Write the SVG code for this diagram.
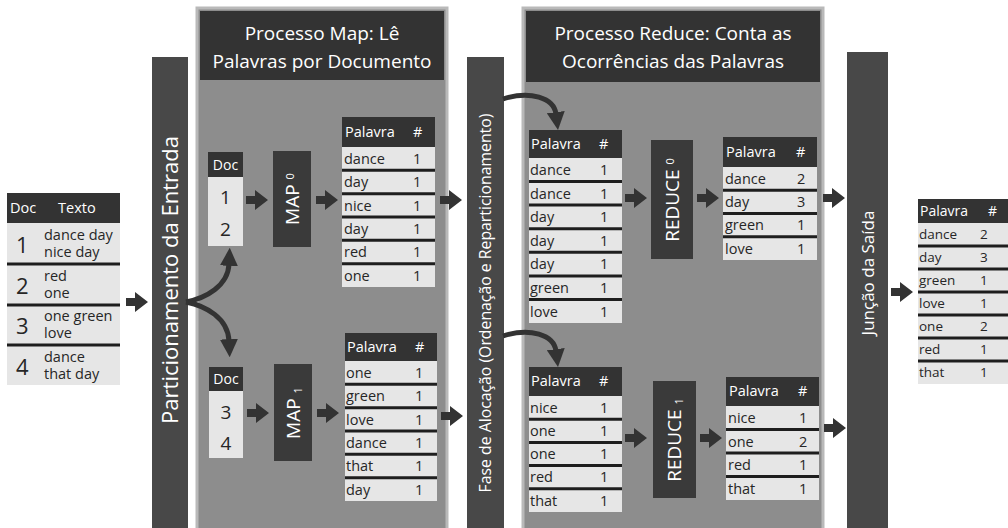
<svg xmlns="http://www.w3.org/2000/svg" xmlns:xlink="http://www.w3.org/1999/xlink" width="1008" height="528" viewBox="0 0 1008 528">
<style>
text{font-family:"Open Sans","DejaVu Sans",sans-serif;}
.hd{fill:#333333;}
.cell{fill:#e6e6e6;}
.sep{stroke:#1e1e1e;stroke-width:3;}
.ht{fill:#ffffff;font-size:14.5px;}
.ct{fill:#262626;font-size:14.5px;}
.bar{fill:#484848;}
.box{fill:#3a3a3a;}
.panel{fill:#8d8d8d;stroke:#b9b9b9;stroke-width:3;}
.title{fill:#ffffff;font-size:19px;text-anchor:middle;}
.vt{fill:#ffffff;text-anchor:middle;}
.arr{fill:#333333;}
.curve{fill:none;stroke:#333333;stroke-width:5;}
</style>
<defs>
<polygon id="ar" class="arr" points="0,-4 9,-4 9,-10 22,0 9,10 9,4 0,4"/>
<marker id="mh" viewBox="0 0 10 10" refX="1" refY="5" markerUnits="userSpaceOnUse" markerWidth="18" markerHeight="18" orient="auto">
<path d="M0,0 L10,5 L0,10 z" fill="#333333"/>
</marker>
</defs>
<rect width="1008" height="528" fill="#ffffff"/>

<!-- panels -->
<g id="map-panel">
<rect class="panel" x="197" y="8" width="250" height="524"/>
<rect class="hd" x="200" y="11" width="244" height="69"/>
<text class="title" x="322" y="40">Processo Map: Lê</text>
<text class="title" x="322" y="68">Palavras por Documento</text>
</g>
<g id="reduce-panel">
<rect class="panel" x="523" y="8" width="300" height="524"/>
<rect class="hd" x="526" y="11" width="294" height="71"/>
<text class="title" x="673" y="40">Processo Reduce: Conta as</text>
<text class="title" x="673" y="68">Ocorrências das Palavras</text>
</g>

<!-- input table -->
<g id="input">
<rect class="hd" x="7" y="193" width="113" height="30"/>
<text class="ht" x="10" y="213">Doc</text>
<text class="ht" x="58" y="213">Texto</text>
<rect class="cell" x="7" y="223" width="113" height="162"/>
<line class="sep" x1="7" y1="264" x2="120" y2="264"/>
<line class="sep" x1="7" y1="305" x2="120" y2="305"/>
<line class="sep" x1="7" y1="345" x2="120" y2="345"/>
<g class="ct" style="font-size:22px"><text x="16" y="253">1</text><text x="16" y="294">2</text><text x="16" y="334">3</text><text x="16" y="375">4</text></g>
<g class="ct" style="font-size:14.5px">
<text x="44" y="240">dance day</text><text x="44" y="257">nice day</text>
<text x="44" y="281">red</text><text x="44" y="298">one</text>
<text x="44" y="321">one green</text><text x="44" y="338">love</text>
<text x="44" y="362">dance</text><text x="44" y="379">that day</text>
</g>
</g>

<!-- bars -->
<g id="particionamento">
<rect class="bar" x="152" y="57" width="36" height="475"/>
<text class="vt" style="font-size:22px" transform="translate(178,280) rotate(-90)">Particionamento da Entrada</text>
</g>
<g id="alocacao">
<rect class="bar" x="467" y="57" width="37" height="475"/>
<text class="vt" style="font-size:15.8px" transform="translate(491,303) rotate(-90)">Fase de Alocação (Ordenação e Reparticionamento)</text>
</g>
<g id="juncao">
<rect class="bar" x="847" y="52" width="41" height="480"/>
<text class="vt" style="font-size:17px" transform="translate(874,273) rotate(-90)">Junção da Saída</text>
</g>

<!-- doc boxes -->
<g id="doc1">
<rect class="hd" x="208" y="152" width="35" height="25"/>
<text class="ht" style="font-size:14px" x="225.5" y="170" text-anchor="middle">Doc</text>
<rect class="cell" x="208" y="177" width="35" height="69"/>
<text class="ct" style="font-size:19px" x="225.5" y="204" text-anchor="middle">1</text>
<text class="ct" style="font-size:19px" x="225.5" y="236" text-anchor="middle">2</text>
</g>
<g id="doc2">
<rect class="hd" x="209" y="367" width="34" height="24"/>
<text class="ht" style="font-size:14px" x="226" y="384" text-anchor="middle">Doc</text>
<rect class="cell" x="209" y="391" width="34" height="67"/>
<text class="ct" style="font-size:19px" x="226" y="419" text-anchor="middle">3</text>
<text class="ct" style="font-size:19px" x="226" y="450" text-anchor="middle">4</text>
</g>

<g id="map0">
<rect class="box" x="273" y="151" width="38" height="96"/>
<text class="vt" style="font-size:19px" transform="translate(299,199) rotate(-90)">MAP <tspan style="font-size:11px" dy="-5">0</tspan></text>
</g>
<g id="map1">
<rect class="box" x="274" y="364" width="38" height="97"/>
<text class="vt" style="font-size:19px" transform="translate(300,413) rotate(-90)">MAP <tspan style="font-size:11px" dy="2">1</tspan></text>
</g>
<g id="reduce0">
<rect class="box" x="651" y="140" width="42" height="119"/>
<text class="vt" style="font-size:19px" transform="translate(679,200) rotate(-90)">REDUCE <tspan style="font-size:11px" dy="-5">0</tspan></text>
</g>
<g id="reduce1">
<rect class="box" x="653" y="381" width="43" height="117"/>
<text class="vt" style="font-size:19px" transform="translate(681,440) rotate(-90)">REDUCE <tspan style="font-size:11px" dy="2">1</tspan></text>
</g>

<!-- map table 0 -->
<g id="map0-out">
<rect class="hd" x="342" y="117" width="93" height="30"/>
<text class="ht" x="345" y="137">Palavra</text><text class="ht" x="413" y="137">#</text>
<rect class="cell" x="342" y="147" width="93" height="140"/>
<line class="sep" x1="342" y1="170.3" x2="435" y2="170.3"/>
<line class="sep" x1="342" y1="193.7" x2="435" y2="193.7"/>
<line class="sep" x1="342" y1="217" x2="435" y2="217"/>
<line class="sep" x1="342" y1="240.3" x2="435" y2="240.3"/>
<line class="sep" x1="342" y1="263.7" x2="435" y2="263.7"/>
<g class="ct">
<text x="344" y="164">dance</text><text x="413" y="164">1</text>
<text x="344" y="187">day</text><text x="413" y="187">1</text>
<text x="344" y="211">nice</text><text x="413" y="211">1</text>
<text x="344" y="234">day</text><text x="413" y="234">1</text>
<text x="344" y="257">red</text><text x="413" y="257">1</text>
<text x="344" y="281">one</text><text x="413" y="281">1</text>
</g>
</g>

<!-- map table 1 -->
<g id="map1-out">
<rect class="hd" x="345" y="333" width="92" height="28"/>
<text class="ht" x="347" y="352">Palavra</text><text class="ht" x="415" y="352">#</text>
<rect class="cell" x="345" y="361" width="92" height="140"/>
<line class="sep" x1="345" y1="384.3" x2="437" y2="384.3"/>
<line class="sep" x1="345" y1="407.7" x2="437" y2="407.7"/>
<line class="sep" x1="345" y1="431" x2="437" y2="431"/>
<line class="sep" x1="345" y1="454.3" x2="437" y2="454.3"/>
<line class="sep" x1="345" y1="477.7" x2="437" y2="477.7"/>
<g class="ct">
<text x="346" y="378">one</text><text x="415" y="378">1</text>
<text x="346" y="401">green</text><text x="415" y="401">1</text>
<text x="346" y="425">love</text><text x="415" y="425">1</text>
<text x="346" y="448">dance</text><text x="415" y="448">1</text>
<text x="346" y="471">that</text><text x="415" y="471">1</text>
<text x="346" y="495">day</text><text x="415" y="495">1</text>
</g>
</g>

<!-- reduce input 0 -->
<g id="reduce0-in">
<rect class="hd" x="529" y="130" width="93" height="28"/>
<text class="ht" x="531" y="149">Palavra</text><text class="ht" x="599" y="149">#</text>
<rect class="cell" x="529" y="158" width="93" height="165"/>
<line class="sep" x1="529" y1="181.6" x2="622" y2="181.6"/>
<line class="sep" x1="529" y1="205.1" x2="622" y2="205.1"/>
<line class="sep" x1="529" y1="228.7" x2="622" y2="228.7"/>
<line class="sep" x1="529" y1="252.3" x2="622" y2="252.3"/>
<line class="sep" x1="529" y1="275.9" x2="622" y2="275.9"/>
<line class="sep" x1="529" y1="299.4" x2="622" y2="299.4"/>
<g class="ct">
<text x="530" y="175">dance</text><text x="600" y="175">1</text>
<text x="530" y="199">dance</text><text x="600" y="199">1</text>
<text x="530" y="222">day</text><text x="600" y="222">1</text>
<text x="530" y="246">day</text><text x="600" y="246">1</text>
<text x="530" y="269">day</text><text x="600" y="269">1</text>
<text x="530" y="293">green</text><text x="600" y="293">1</text>
<text x="530" y="317">love</text><text x="600" y="317">1</text>
</g>
</g>

<!-- reduce input 1 -->
<g id="reduce1-in">
<rect class="hd" x="529" y="367" width="93" height="29"/>
<text class="ht" x="531" y="386">Palavra</text><text class="ht" x="599" y="386">#</text>
<rect class="cell" x="529" y="396" width="93" height="116"/>
<line class="sep" x1="529" y1="419.2" x2="622" y2="419.2"/>
<line class="sep" x1="529" y1="442.4" x2="622" y2="442.4"/>
<line class="sep" x1="529" y1="465.6" x2="622" y2="465.6"/>
<line class="sep" x1="529" y1="488.8" x2="622" y2="488.8"/>
<g class="ct">
<text x="530" y="413">nice</text><text x="600" y="413">1</text>
<text x="530" y="436">one</text><text x="600" y="436">1</text>
<text x="530" y="459">one</text><text x="600" y="459">1</text>
<text x="530" y="482">red</text><text x="600" y="482">1</text>
<text x="530" y="506">that</text><text x="600" y="506">1</text>
</g>
</g>

<!-- reduce output 0 -->
<g id="reduce0-out">
<rect class="hd" x="723" y="137" width="94" height="30"/>
<text class="ht" x="726" y="157">Palavra</text><text class="ht" x="796" y="157">#</text>
<rect class="cell" x="723" y="167" width="94" height="93"/>
<line class="sep" x1="723" y1="190.3" x2="817" y2="190.3"/>
<line class="sep" x1="723" y1="213.5" x2="817" y2="213.5"/>
<line class="sep" x1="723" y1="236.8" x2="817" y2="236.8"/>
<g class="ct">
<text x="725" y="184">dance</text><text x="797" y="184">2</text>
<text x="725" y="207">day</text><text x="797" y="207">3</text>
<text x="725" y="230">green</text><text x="797" y="230">1</text>
<text x="725" y="254">love</text><text x="797" y="254">1</text>
</g>
</g>

<!-- reduce output 1 -->
<g id="reduce1-out">
<rect class="hd" x="726" y="377" width="93" height="29"/>
<text class="ht" x="729" y="396">Palavra</text><text class="ht" x="798" y="396">#</text>
<rect class="cell" x="726" y="406" width="93" height="94"/>
<line class="sep" x1="726" y1="429.5" x2="819" y2="429.5"/>
<line class="sep" x1="726" y1="453" x2="819" y2="453"/>
<line class="sep" x1="726" y1="476.5" x2="819" y2="476.5"/>
<g class="ct">
<text x="728" y="423">nice</text><text x="799" y="423">1</text>
<text x="728" y="447">one</text><text x="799" y="447">2</text>
<text x="728" y="470">red</text><text x="799" y="470">1</text>
<text x="728" y="494">that</text><text x="799" y="494">1</text>
</g>
</g>

<!-- final output -->
<g id="final">
<rect class="hd" x="918" y="199" width="90" height="24"/>
<text class="ht" style="font-size:14px" x="920" y="216">Palavra</text><text class="ht" style="font-size:14px" x="988" y="216">#</text>
<rect class="cell" x="918" y="223" width="90" height="161"/>
<line class="sep" x1="918" y1="246" x2="1008" y2="246"/>
<line class="sep" x1="918" y1="269" x2="1008" y2="269"/>
<line class="sep" x1="918" y1="292" x2="1008" y2="292"/>
<line class="sep" x1="918" y1="315" x2="1008" y2="315"/>
<line class="sep" x1="918" y1="338" x2="1008" y2="338"/>
<line class="sep" x1="918" y1="361" x2="1008" y2="361"/>
<g class="ct" style="font-size:13.5px">
<text x="919" y="239">dance</text><text x="980" y="239">2</text>
<text x="919" y="262">day</text><text x="980" y="262">3</text>
<text x="919" y="285">green</text><text x="980" y="285">1</text>
<text x="919" y="308">love</text><text x="980" y="308">1</text>
<text x="919" y="331">one</text><text x="980" y="331">2</text>
<text x="919" y="354">red</text><text x="980" y="354">1</text>
<text x="919" y="377">that</text><text x="980" y="377">1</text>
</g>
</g>

<!-- connectors -->
<g id="connectors">
<use xlink:href="#ar" href="#ar" x="126" y="302"/>
<use xlink:href="#ar" href="#ar" x="246" y="200"/>
<use xlink:href="#ar" href="#ar" x="316" y="200"/>
<use xlink:href="#ar" href="#ar" x="440" y="200"/>
<use xlink:href="#ar" href="#ar" x="247" y="413"/>
<use xlink:href="#ar" href="#ar" x="317" y="413"/>
<use xlink:href="#ar" href="#ar" x="441" y="416"/>
<use xlink:href="#ar" href="#ar" x="625" y="198"/>
<use xlink:href="#ar" href="#ar" x="697" y="198"/>
<use xlink:href="#ar" href="#ar" x="823" y="198"/>
<use xlink:href="#ar" href="#ar" x="625" y="438"/>
<use xlink:href="#ar" href="#ar" x="700" y="438"/>
<use xlink:href="#ar" href="#ar" x="824" y="428"/>
<use xlink:href="#ar" href="#ar" x="891" y="292"/>
<path class="curve" marker-end="url(#mh)" d="M186,302 C206,298 228,286 229,264"/>
<path class="curve" marker-end="url(#mh)" d="M186,302 C206,306 228,318 229,341"/>
<path class="curve" marker-end="url(#mh)" d="M503,99 C530,90 554,98 556,114"/>
<path class="curve" marker-end="url(#mh)" d="M503,336 C530,327 554,335 556,351"/>
</g>
</svg>
